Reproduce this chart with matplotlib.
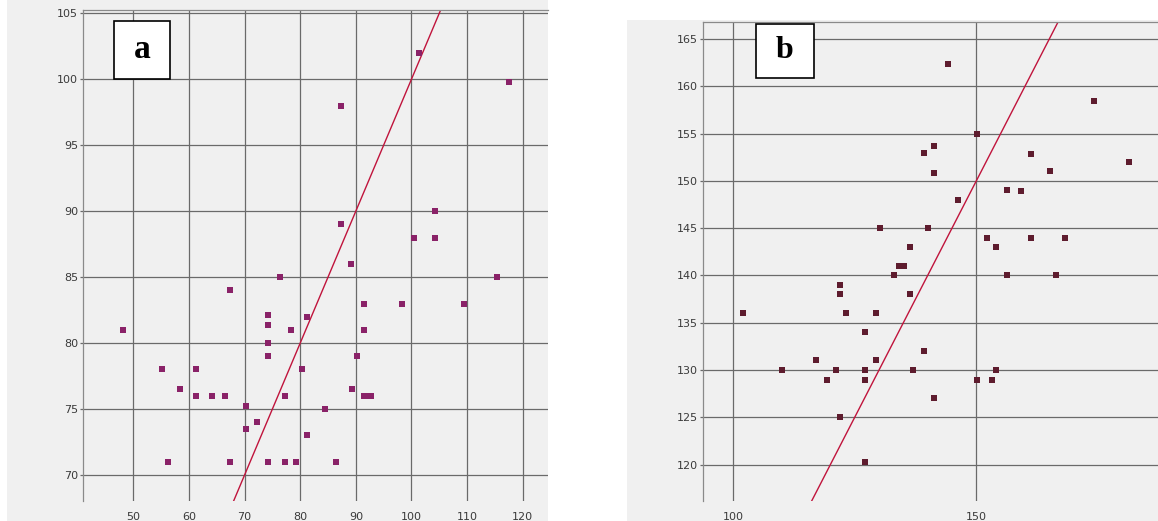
import matplotlib
matplotlib.use("Agg")
import matplotlib.pyplot as plt
from matplotlib.patches import Rectangle

# Panel a: measured vs. predicted values
a_x = [48.2, 55.2, 58.4, 61.3, 61.3, 64.2, 66.4, 67.3, 56.2, 67.3,
       70.3, 70.3, 72.2, 74.2, 74.2, 74.2, 74.2, 74.2, 76.3, 78.3,
       77.3, 77.3, 79.2, 80.3, 89.2, 115.4, 91.5, 98.3, 109.5, 81.3,
       91.5, 90.3, 89.3, 91.5, 92.1, 92.7, 84.5, 81.3, 86.4, 101.4,
       117.5, 87.3, 104.3, 87.3, 100.5, 104.3]
a_y = [81.0, 78.0, 76.5, 78.0, 76.0, 76.0, 76.0, 84.0, 71.0, 71.0,
       75.2, 73.5, 74.0, 82.1, 81.4, 80.0, 79.0, 71.0, 85.0, 81.0,
       76.0, 71.0, 71.0, 78.0, 86.0, 85.0, 83.0, 83.0, 83.0, 82.0,
       81.0, 79.0, 76.5, 76.0, 76.0, 76.0, 75.0, 73.0, 71.0, 102.0,
       99.8, 98.0, 90.0, 89.0, 88.0, 88.0]
a_xticks = [50, 60, 70, 80, 90, 100, 110, 120]
a_yticks = [70, 75, 80, 85, 90, 95, 100, 105]

# Panel b
b_x = [102.1, 110.1, 117.1, 119.3, 121.2, 122.0, 122.0, 123.3, 129.3, 127.1,
       129.3, 127.1, 127.1, 122.0, 127.1, 130.2, 133.1, 134.2, 135.1, 136.3,
       136.3, 139.3, 137.0, 141.3, 140.1, 139.3, 141.3, 141.3, 144.1, 146.2,
       150.1, 150.1, 153.2, 154.1, 152.1, 154.1, 156.3, 159.1, 156.3, 161.3,
       161.3, 165.2, 166.3, 168.3, 174.1, 181.4]
b_y = [136.0, 130.0, 131.1, 129.0, 130.0, 139.0, 138.0, 136.0, 136.0, 134.0,
       131.1, 130.0, 129.0, 125.0, 120.3, 145.0, 140.0, 141.0, 141.0, 138.0,
       143.0, 132.0, 130.0, 127.0, 145.0, 153.0, 153.7, 150.8, 162.4, 148.0,
       155.0, 128.9, 129.0, 130.0, 144.0, 143.0, 149.0, 148.9, 140.0, 152.8,
       144.0, 151.0, 140.0, 144.0, 158.4, 152.0]
b_xticks = [100, 150]
b_yticks = [120, 125, 130, 135, 140, 145, 150, 155, 160, 165]

W, H = 1158, 521
fig = plt.figure(figsize=(W / 100, H / 100), dpi=100, facecolor="white")


def px_rect(x0, y0, x1, y1):
    """Convert a top-left pixel box into figure-fraction [l, b, w, h]."""
    return [x0 / W, (H - y1) / H, (x1 - x0) / W, (y1 - y0) / H]


# light gray frames behind each panel
for box in [(7, 0, 548, 521), (627, 20, 1158, 521)]:
    l, b, w, h = px_rect(*box)
    fig.patches.append(Rectangle((l, b), w, h, transform=fig.transFigure,
                                 facecolor="#f0f0f0", edgecolor="none", zorder=-5))

grid_col = "#6a6a6a"


def panel(rect, xs, ys, xlim, ylim, xticks, yticks, mcolor):
    ax = fig.add_axes(px_rect(*rect))
    ax.set_zorder(1)
    ax.set_facecolor("#f0f0f0")
    ax.set_xlim(*xlim)
    ax.set_ylim(*ylim)
    ax.set_xticks(xticks)
    ax.set_yticks(yticks)
    ax.grid(True, color=grid_col, linewidth=0.9)
    ax.set_axisbelow(True)
    for side in ["right", "bottom"]:
        ax.spines[side].set_visible(False)
    ax.spines["left"].set_color("#8a8a8a")
    ax.spines["top"].set_color("#8a8a8a")
    ax.spines["left"].set_linewidth(0.9)
    ax.spines["top"].set_linewidth(0.9)
    ax.tick_params(axis="y", length=2.5, width=0.9, color=grid_col, pad=1,
                   labelsize=8, labelcolor="#3a3a3a")
    ax.tick_params(axis="x", length=0, pad=8, labelsize=8, labelcolor="#3a3a3a")
    ax.axline((xlim[0], xlim[0]), slope=1, color="#c0143c", linewidth=1.0, zorder=2)
    ax.plot(xs, ys, linestyle="none", marker="s", markersize=4,
            markeredgewidth=0, color=mcolor, zorder=3)
    return ax


panel((83, 9.5, 547.7, 501), a_x, a_y, (40.95, 124.5), (68.03, 105.29),
      a_xticks, a_yticks, "#8a2268")
panel((703, 21.5, 1158, 501), b_x, b_y, (93.83, 187.34), (116.16, 166.85),
      b_xticks, b_yticks, "#5e1c2e")


def tag(box, letter, size):
    l, b, w, h = px_rect(*box)
    fig.patches.append(Rectangle((l, b), w, h, transform=fig.transFigure,
                                 facecolor="white", edgecolor="black",
                                 linewidth=1.2, zorder=10))
    fig.text(l + w / 2, b + h / 2, letter, ha="center", va="center",
             family=["Liberation Serif", "DejaVu Serif"], fontweight="bold",
             fontsize=size, zorder=11)


tag((114, 21, 170, 79), "a", 24)
tag((756, 24, 814, 78), "b", 23)

fig.savefig("out.png", dpi=100, facecolor="white")
